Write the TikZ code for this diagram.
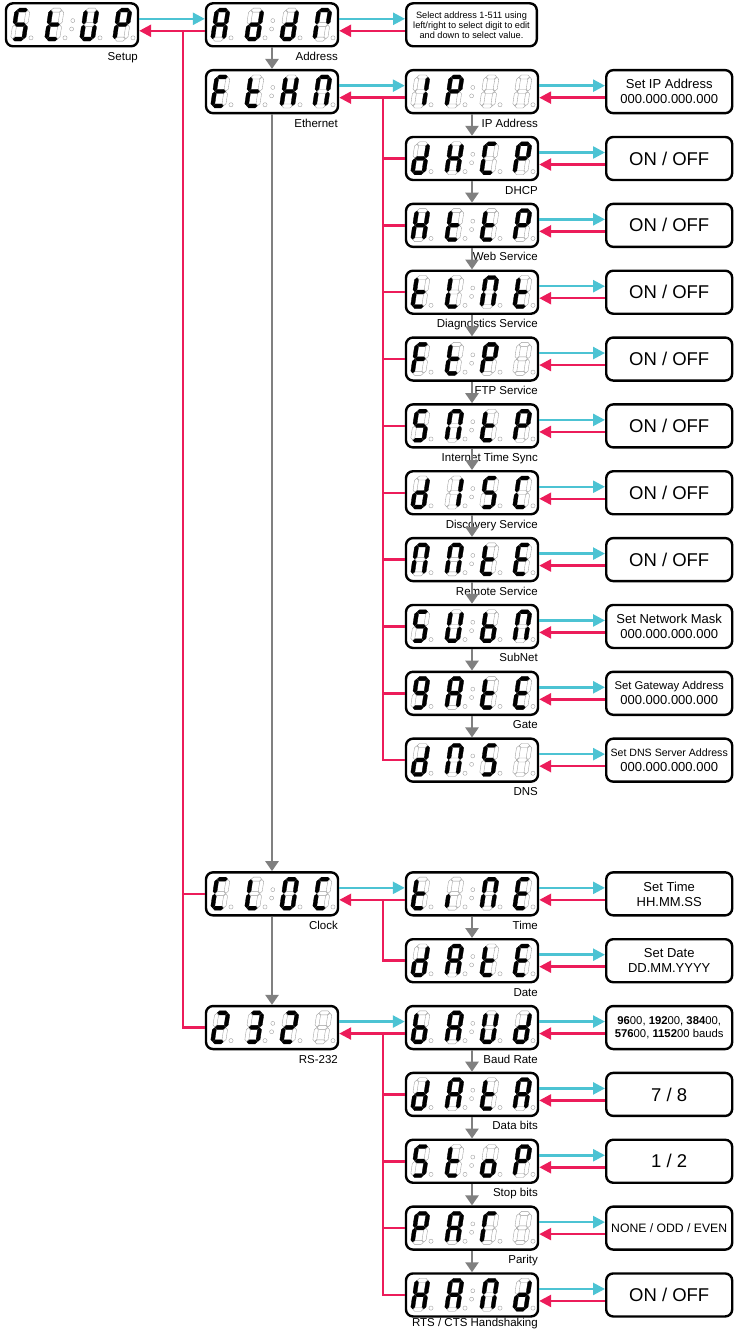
\documentclass[tikz,border=0pt]{standalone}
\usepackage{fontspec}
\setmainfont{Liberation Sans}
\usetikzlibrary{arrows.meta}
\definecolor{cyanarr}{HTML}{4CC3D3}
\definecolor{redarr}{HTML}{EC1C5A}
\definecolor{greyarr}{HTML}{808080}

\makeatletter
% one slanted seven-segment digit, origin at its bottom left, #3 = lit segments
\newcommand\sevenseg[3]{%
  \begin{scope}[shift={(#1,#2)}, y=1pt, xslant=0.15]
    \foreach \n/\sx/\sy/\sr/\sl in {a/5.6/29/0/5.2, b/11.2/21.75/90/6.9, c/11.2/7.25/90/6.9,
        d/5.6/0/0/5.2, e/0/7.25/90/6.9, f/0/21.75/90/6.9, g/5.6/14.5/0/5.2}{
      \expandafter\in@\expandafter{\n}{#3}%
      \ifin@\def\segsty{seglit}\else\def\segsty{segoff}\fi
      \draw[\segsty, shift={(\sx,\sy)}, rotate=\sr]
        (-\sl,0) -- (-\sl+2,2) -- (\sl-2,2) -- (\sl,0) -- (\sl-2,-2) -- (-\sl+2,-2) -- cycle;
    }
  \end{scope}
  \draw[segoff] (#1+18.5,#2-1.2) circle (2.1);}
\makeatother

% display with four digits and its label
\newcommand\dispunit[8]{%
  \node[dispbox] (#1) at (#2,#3) {};
  \sevenseg{#2-59.5}{#3+14.3}{#4}
  \sevenseg{#2-25.5}{#3+14.3}{#5}
  \sevenseg{#2+9.5}{#3+14.3}{#6}
  \sevenseg{#2+42.5}{#3+14.3}{#7}
  \draw[segoff] (#2+0.8,#3-4.2) circle (2) (#2-0.4,#3+4.2) circle (2);
  \node[lbl] at (#2+66,{min(#3+35.5,1326.5)}) {#8};}

\newcommand\pairarrows[2]{%
  \draw[fwdarr] ([yshift=6pt]#1.east) -- ([yshift=6pt]#2.west);
  \draw[backarr] ([yshift=-6pt]#2.west) -- ([yshift=-6pt]#1.east);}

\newcommand\valfont{\fontsize{13}{15}\selectfont}
\newcommand\onofffont{\fontsize{18.5}{20}\selectfont}

\begin{document}
\begin{tikzpicture}[x=1pt,y=-1pt,
    dispbox/.style={draw, line width=2.4pt, rounded corners=7pt, minimum width=132pt, minimum height=43pt, inner sep=0pt},
    valbox/.style={dispbox, minimum width=126pt, align=center},
    lbl/.style={anchor=base east, inner sep=0pt, font=\fontsize{11.5}{13}\selectfont},
    seglit/.style={fill=black, draw=black, line width=0.3pt},
    segoff/.style={fill=white, draw=black!40, line width=0.35pt},
    fwdarr/.style={cyanarr, line width=2.5pt, -{Triangle[length=12pt,width=12pt]}},
    backarr/.style={redarr, line width=2.5pt, -{Triangle[length=12pt,width=12pt]}},
    godown/.style={greyarr, line width=2.8pt, -{Triangle[length=10pt,width=13pt]}},
    trunkline/.style={redarr, line width=2.5pt}]
  \useasboundingbox (0,0) rectangle (734,1330);

  % top level
  \dispunit{setup}{72}{24.8}{acdfg}{defg}{bcdef}{abefg}{Setup}
  \dispunit{address}{272}{24.8}{abcefg}{bcdeg}{bcdeg}{abef}{Address}
  \node[dispbox, minimum width=130.6pt, align=center, font=\fontsize{9.2}{10}\selectfont] (info) at (471.5,24.8)
    {Select address 1-511 using\\left/right to select digit to edit\\and down to select value.};
  \dispunit{ether}{272}{91.65}{adefg}{defg}{bcefg}{abcef}{Ethernet}
  \dispunit{clock}{272}{893.85}{adef}{def}{abcdef}{adef}{Clock}
  \dispunit{rs}{272}{1027.55}{abdeg}{abcdg}{abdeg}{-}{RS-232}

  % ethernet menu
  \dispunit{ipaddr}{472}{91.65}{bc}{abefg}{-}{-}{IP Address}
  \dispunit{dhcp}{472}{158.5}{bcdeg}{bcefg}{adef}{abefg}{DHCP}
  \dispunit{web}{472}{225.35}{bcefg}{defg}{defg}{abefg}{Web Service}
  \dispunit{diag}{472}{292.2}{defg}{def}{abcef}{defg}{Diagnostics Service}
  \dispunit{ftp}{472}{359.05}{aefg}{defg}{abefg}{-}{FTP Service}
  \dispunit{sntp}{472}{425.9}{acdfg}{abcef}{defg}{abefg}{Internet Time Sync}
  \dispunit{disc}{472}{492.75}{bcdeg}{bc}{acdfg}{adef}{Discovery Service}
  \dispunit{remote}{472}{559.6}{abcef}{abcef}{defg}{adefg}{Remote Service}
  \dispunit{subnet}{472}{626.45}{acdfg}{bcdef}{cdefg}{abcef}{SubNet}
  \dispunit{gate}{472}{693.3}{abcdfg}{abcefg}{defg}{adefg}{Gate}
  \dispunit{dns}{472}{760.15}{bcdeg}{abcef}{acdfg}{-}{DNS}

  % clock menu
  \dispunit{time}{472}{893.85}{defg}{e}{abcef}{adefg}{Time}
  \dispunit{date}{472}{960.7}{bcdeg}{abcefg}{defg}{adefg}{Date}

  % rs-232 menu
  \dispunit{baud}{472}{1027.55}{cdefg}{abcefg}{bcdef}{bcdeg}{Baud Rate}
  \dispunit{databits}{472}{1094.4}{bcdeg}{abcefg}{defg}{abcefg}{Data bits}
  \dispunit{stopbits}{472}{1161.25}{acdfg}{defg}{cdeg}{abefg}{Stop bits}
  \dispunit{parity}{472}{1228.1}{abefg}{abcefg}{aef}{-}{Parity}
  \dispunit{hand}{472}{1294.95}{bcefg}{abcefg}{abcef}{bcdeg}{RTS / CTS Handshaking}

  % value boxes
  \node[valbox, font=\valfont] (ipaddrval) at (669.2,91.65) {Set IP Address\\000.000.000.000};
  \node[valbox, font=\onofffont] (dhcpval) at (669.2,158.5) {ON / OFF};
  \node[valbox, font=\onofffont] (webval) at (669.2,225.35) {ON / OFF};
  \node[valbox, font=\onofffont] (diagval) at (669.2,292.2) {ON / OFF};
  \node[valbox, font=\onofffont] (ftpval) at (669.2,359.05) {ON / OFF};
  \node[valbox, font=\onofffont] (sntpval) at (669.2,425.9) {ON / OFF};
  \node[valbox, font=\onofffont] (discval) at (669.2,492.75) {ON / OFF};
  \node[valbox, font=\onofffont] (remoteval) at (669.2,559.6) {ON / OFF};
  \node[valbox, font=\valfont] (subnetval) at (669.2,626.45) {Set Network Mask\\000.000.000.000};
  \node[valbox, font=\valfont] (gateval) at (669.2,693.3) {{\fontsize{11.3}{15}\selectfont Set Gateway Address}\\000.000.000.000};
  \node[valbox, font=\valfont] (dnsval) at (669.2,760.15) {{\fontsize{10.6}{15}\selectfont Set DNS Server Address}\\000.000.000.000};
  \node[valbox, font=\valfont] (timeval) at (669.2,893.85) {Set Time\\HH.MM.SS};
  \node[valbox, font=\valfont] (dateval) at (669.2,960.7) {Set Date\\DD.MM.YYYY};
  \node[valbox, font=\fontsize{11.3}{13}\selectfont] (baudval) at (669.2,1027.55)
    {\textbf{96}00, \textbf{192}00, \textbf{384}00,\\\textbf{576}00, \textbf{1152}00 bauds};
  \node[valbox, font=\onofffont] (databitsval) at (669.2,1094.4) {7 / 8};
  \node[valbox, font=\onofffont] (stopbitsval) at (669.2,1161.25) {1 / 2};
  \node[valbox, font=\fontsize{12.2}{14}\selectfont] (parityval) at (669.2,1228.1) {NONE / ODD / EVEN};
  \node[valbox, font=\onofffont] (handval) at (669.2,1294.95) {ON / OFF};

  % forward / back arrows
  \pairarrows{setup}{address}
  \pairarrows{address}{info}
  \pairarrows{ether}{ipaddr}
  \pairarrows{clock}{time}
  \pairarrows{rs}{baud}
  \foreach \a in {ipaddr,dhcp,web,diag,ftp,sntp,disc,remote,subnet,gate,dns,time,date,baud,databits,stopbits,parity,hand}
    \pairarrows{\a}{\a val};

  % return lines
  \coordinate (j0) at (183,30.8);
  \draw[trunkline] (j0) |- (rs.west);
  \draw[trunkline] (j0 |- clock.west) -- (clock.west);
  \coordinate (j1) at (383,97.65);
  \draw[trunkline] (j1) |- (dns.west);
  \foreach \t in {dhcp,web,diag,ftp,sntp,disc,remote,subnet,gate}
    \draw[trunkline] (j1 |- \t.west) -- (\t.west);
  \coordinate (j2) at (383,899.85);
  \draw[trunkline] (j2) |- (date.west);
  \coordinate (j3) at (383,1033.55);
  \draw[trunkline] (j3) |- (hand.west);
  \foreach \t in {databits,stopbits,parity}
    \draw[trunkline] (j3 |- \t.west) -- (\t.west);

  % next item arrows
  \draw[godown] (address.south) -- (ether.north);
  \draw[godown] (ether.south) -- (clock.north);
  \draw[godown] (clock.south) -- (rs.north);
  \foreach \a/\b in {ipaddr/dhcp,dhcp/web,web/diag,diag/ftp,ftp/sntp,sntp/disc,disc/remote,remote/subnet,subnet/gate,gate/dns,time/date,baud/databits,databits/stopbits,stopbits/parity,parity/hand}
    \draw[godown] (\a.south) -- (\b.north);
\end{tikzpicture}
\end{document}
